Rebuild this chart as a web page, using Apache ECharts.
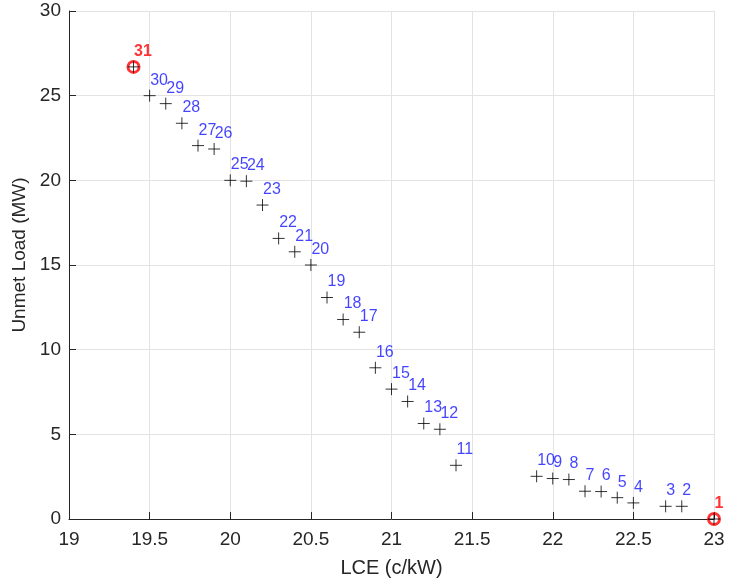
<!DOCTYPE html>
<html>
<head>
<meta charset="utf-8">
<script src="https://cdn.jsdelivr.net/npm/echarts@6/dist/echarts.min.js"></script>
<style>
  html, body { margin: 0; padding: 0; background: #fff; }
  #chart { width: 729px; height: 588px; }
</style>
</head>
<body>
<div id="chart"></div>
<script>
// Solution index for each design point
const pointIds = [1, 2, 3, 4, 5, 6, 7, 8, 9, 10, 11, 12, 13, 14, 15, 16, 17, 18, 19, 20,
                  21, 22, 23, 24, 25, 26, 27, 28, 29, 30, 31];
// Levelized cost of energy (c/kW)
const lce = [23.0, 22.8, 22.7, 22.5, 22.4, 22.3, 22.2, 22.1, 22.0, 21.9, 21.4, 21.3, 21.2, 21.1, 21.0, 20.9,
             20.8, 20.7, 20.6, 20.5, 20.4, 20.3, 20.2, 20.1, 20.0, 19.9, 19.8, 19.7, 19.6, 19.5, 19.4];
// Unmet load (MW)
const unmetLoad = [0.0, 0.75, 0.75, 0.95, 1.26, 1.62, 1.64, 2.33, 2.39, 2.52, 3.17, 5.30, 5.64, 6.94, 7.67, 8.93,
                   11.03, 11.78, 13.08, 15.0, 15.78, 16.57, 18.54, 19.95, 20.0, 21.85, 22.05, 23.37, 24.53, 25.0, 26.7];
// Extreme solutions highlighted with a red ring
const highlightIds = [1, 31];

// Axis ticks
const xTicks = [19, 19.5, 20, 20.5, 21, 21.5, 22, 22.5, 23];
const yTicks = [0, 5, 10, 15, 20, 25, 30];

const FONT = "'Liberation Sans', Arial, Helvetica, sans-serif";
const AXIS_COLOR = '#262626';
const GRID_COLOR = '#e3e3e3';

const plusData = pointIds.map((id, i) => {
  const item = { value: [lce[i], unmetLoad[i], id] };
  if (highlightIds.includes(id)) {
    item.label = { color: '#ff0000', fontWeight: 'bold' };
  }
  return item;
});
const ringData = pointIds
  .map((id, i) => [lce[i], unmetLoad[i], id])
  .filter(d => highlightIds.includes(d[2]));

const chart = echarts.init(document.getElementById('chart'), null, { renderer: 'canvas' });

chart.setOption({
  animation: false,
  backgroundColor: '#ffffff',
  grid: { left: 69, right: 15, top: 11, bottom: 69, containLabel: false },
  xAxis: {
    type: 'value',
    min: xTicks[0],
    max: xTicks[xTicks.length - 1],
    interval: xTicks[1] - xTicks[0],
    name: 'LCE (c/kW)',
    nameLocation: 'middle',
    nameGap: 39,
    nameTextStyle: { fontFamily: FONT, fontSize: 20, color: AXIS_COLOR },
    axisLine: { show: true, onZero: false, lineStyle: { color: AXIS_COLOR, width: 1 } },
    axisTick: { show: true, inside: true, length: 7, lineStyle: { color: AXIS_COLOR } },
    axisLabel: { fontFamily: FONT, fontSize: 19, color: AXIS_COLOR, margin: 11 },
    splitLine: { show: true, lineStyle: { color: GRID_COLOR, width: 1 } }
  },
  yAxis: {
    type: 'value',
    min: yTicks[0],
    max: yTicks[yTicks.length - 1],
    interval: yTicks[1] - yTicks[0],
    name: 'Unmet Load (MW)',
    nameLocation: 'middle',
    nameGap: 37,
    nameTextStyle: { fontFamily: FONT, fontSize: 19, color: AXIS_COLOR, padding: [0, 0, 0, 20] },
    axisLine: { show: true, onZero: false, lineStyle: { color: AXIS_COLOR, width: 1 } },
    axisTick: { show: true, inside: true, length: 7, lineStyle: { color: AXIS_COLOR } },
    axisLabel: { fontFamily: FONT, fontSize: 19, color: AXIS_COLOR, margin: 8 },
    splitLine: { show: true, lineStyle: { color: GRID_COLOR, width: 1 } }
  },
  series: [
    {
      name: 'ring',
      type: 'scatter',
      data: ringData,
      symbol: 'circle',
      symbolSize: 11,
      itemStyle: { color: 'rgba(0,0,0,0)', borderColor: '#ff0000', borderWidth: 3 },
      z: 2
    },
    {
      name: 'solutions',
      type: 'scatter',
      data: plusData,
      symbol: 'path://M0,6L12,6M6,0L6,12',
      symbolSize: 12,
      itemStyle: { color: 'rgba(0,0,0,0)', borderColor: '#000000', borderWidth: 1 },
      label: {
        show: true,
        formatter: p => String(p.value[2]),
        position: [7, -9],
        align: 'left',
        verticalAlign: 'middle',
        fontFamily: FONT,
        fontSize: 16,
        color: '#1414ff'
      },
      z: 3
    }
  ]
});
</script>
</body>
</html>
